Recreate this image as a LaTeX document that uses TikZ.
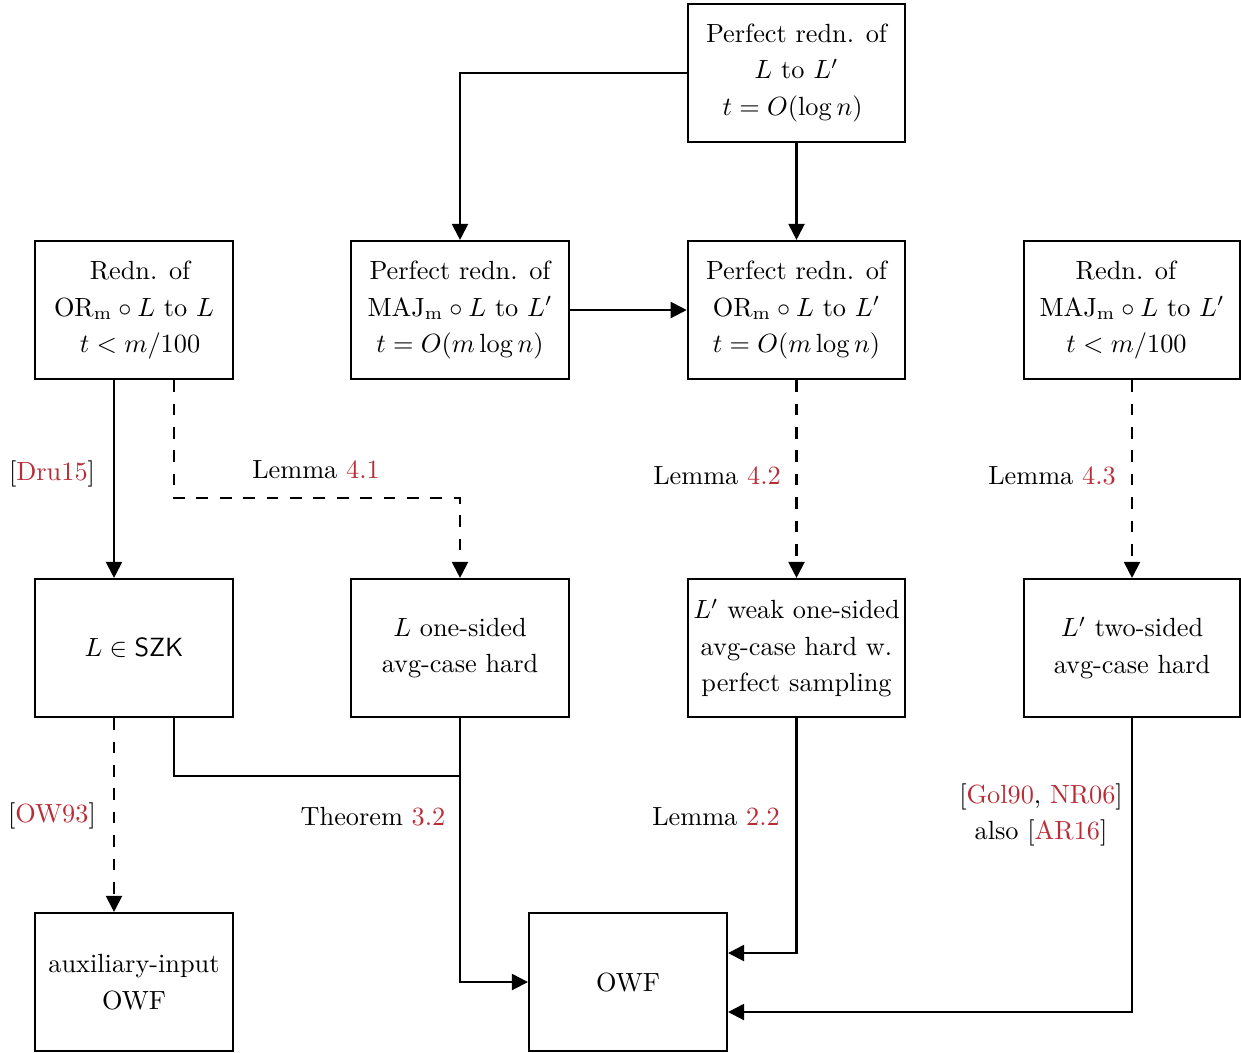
\documentclass[tikz,border=0pt]{standalone}
\usetikzlibrary{arrows.meta,calc}
\definecolor{linkred}{RGB}{185,45,55}
\newcommand{\cit}[1]{\textcolor{linkred}{#1}}
\begin{document}
\begin{tikzpicture}[x=0.3803pt,y=-0.3803pt,
  every node/.style={font=\fontsize{10}{13.9}\selectfont},
  box/.style={draw,line width=0.8pt,align=center,inner sep=0pt,minimum height=52.5pt},
  wbox/.style={box,minimum width=82.7pt},
  nbox/.style={box,minimum width=75.3pt},
  lbl/.style={align=center,inner sep=1pt},
  arr/.style={line width=0.8pt,-{Triangle[length=6.1pt,width=6.1pt]}},
  darr/.style={arr,dash pattern=on 4.45pt off 4.45pt},
  ln/.style={line width=0.8pt}]
\useasboundingbox (0,0) rectangle (1241,1052);
% nodes
\node[wbox] (A) at (796.5,73) {Perfect redn. of\\$L$ to $L'$\hspace*{3.4pt}\\$t=O(\log n)$\hspace*{3pt}};
\node[nbox] (B1) at (134,310) {\hspace*{4.6pt}Redn. of\\$\mathrm{OR}_\mathrm{m}\circ L$ to $L$\\\hspace*{4.6pt}$t<m/100$};
\node[wbox] (B2) at (460,310) {Perfect redn. of\\$\mathrm{MAJ}_\mathrm{m}\circ L$ to $L'$\\$t=O(m\log n)$};
\node[wbox] (B3) at (796.5,310) {Perfect redn. of\\$\mathrm{OR}_\mathrm{m}\circ L$ to $L'$\\$t=O(m\log n)$};
\node[box,minimum width=82.2pt] (B4) at (1132,310) {Redn. of\hspace*{4.6pt}\\$\mathrm{MAJ}_\mathrm{m}\circ L$ to $L'$\\$t<m/100$\hspace*{4.2pt}};
\node[nbox] (C1) at (134,648) {$L\in\mathsf{SZK}$};
\node[wbox] (C2) at (460,648) {$L$ one-sided\\avg-case hard};
\node[wbox] (C3) at (796.5,648) {$L'$ weak one-sided\\avg-case hard w.\\perfect sampling};
\node[box,minimum width=82.2pt] (C4) at (1132,648) {$L'$ two-sided\\avg-case hard};
\node[nbox] (D1) at (134,982) {auxiliary-input\\OWF};
\node[nbox] (D2) at (628,982) {OWF};
% labels
\node[lbl] (l1) at (52,474) {[\cit{Dru15}]};
\node[lbl] (l2) at (316,470) {Lemma \cit{4.1}};
\node[lbl] (l3) at (717,476) {Lemma \cit{4.2}};
\node[lbl] (l4) at (1052,476) {Lemma \cit{4.3}};
\node[lbl] (l5) at (52,816) {[\cit{OW93}]};
\node[lbl] (l6) at (373,817) {Theorem \cit{3.2}};
\node[lbl] (l7) at (716,817) {Lemma \cit{2.2}};
\node[lbl] (l8) at (1041,815) {[\cit{Gol90}, \cit{NR06}]\\also [\cit{AR16}]};
% connectors
\draw[arr] (A.west) -| (B2.north);
\draw[arr] (A.south) -- (B3.north);
\draw[arr] (B2.east) -- (B3.west);
\draw[arr] ($(B1.south)+(-20,0)$) -- ($(C1.north)+(-20,0)$);
\draw[darr] ($(B1.south)+(40,0)$) -- ++(0,118) -| (C2.north);
\draw[darr] (B3.south) -- (C3.north);
\draw[darr] (B4.south) -- (C4.north);
\draw[darr] ($(C1.south)+(-20,0)$) -- ($(D1.north)+(-20,0)$);
\draw[ln] ($(C1.south)+(40,0)$) -- ++(0,58) -| (C2.south);
\draw[arr] (C2.south) |- (D2.west);
\draw[arr] (C3.south) |- ($(D2.east)+(0,-29)$);
\draw[arr] (C4.south) |- ($(D2.east)+(0,30)$);
\end{tikzpicture}
\end{document}
